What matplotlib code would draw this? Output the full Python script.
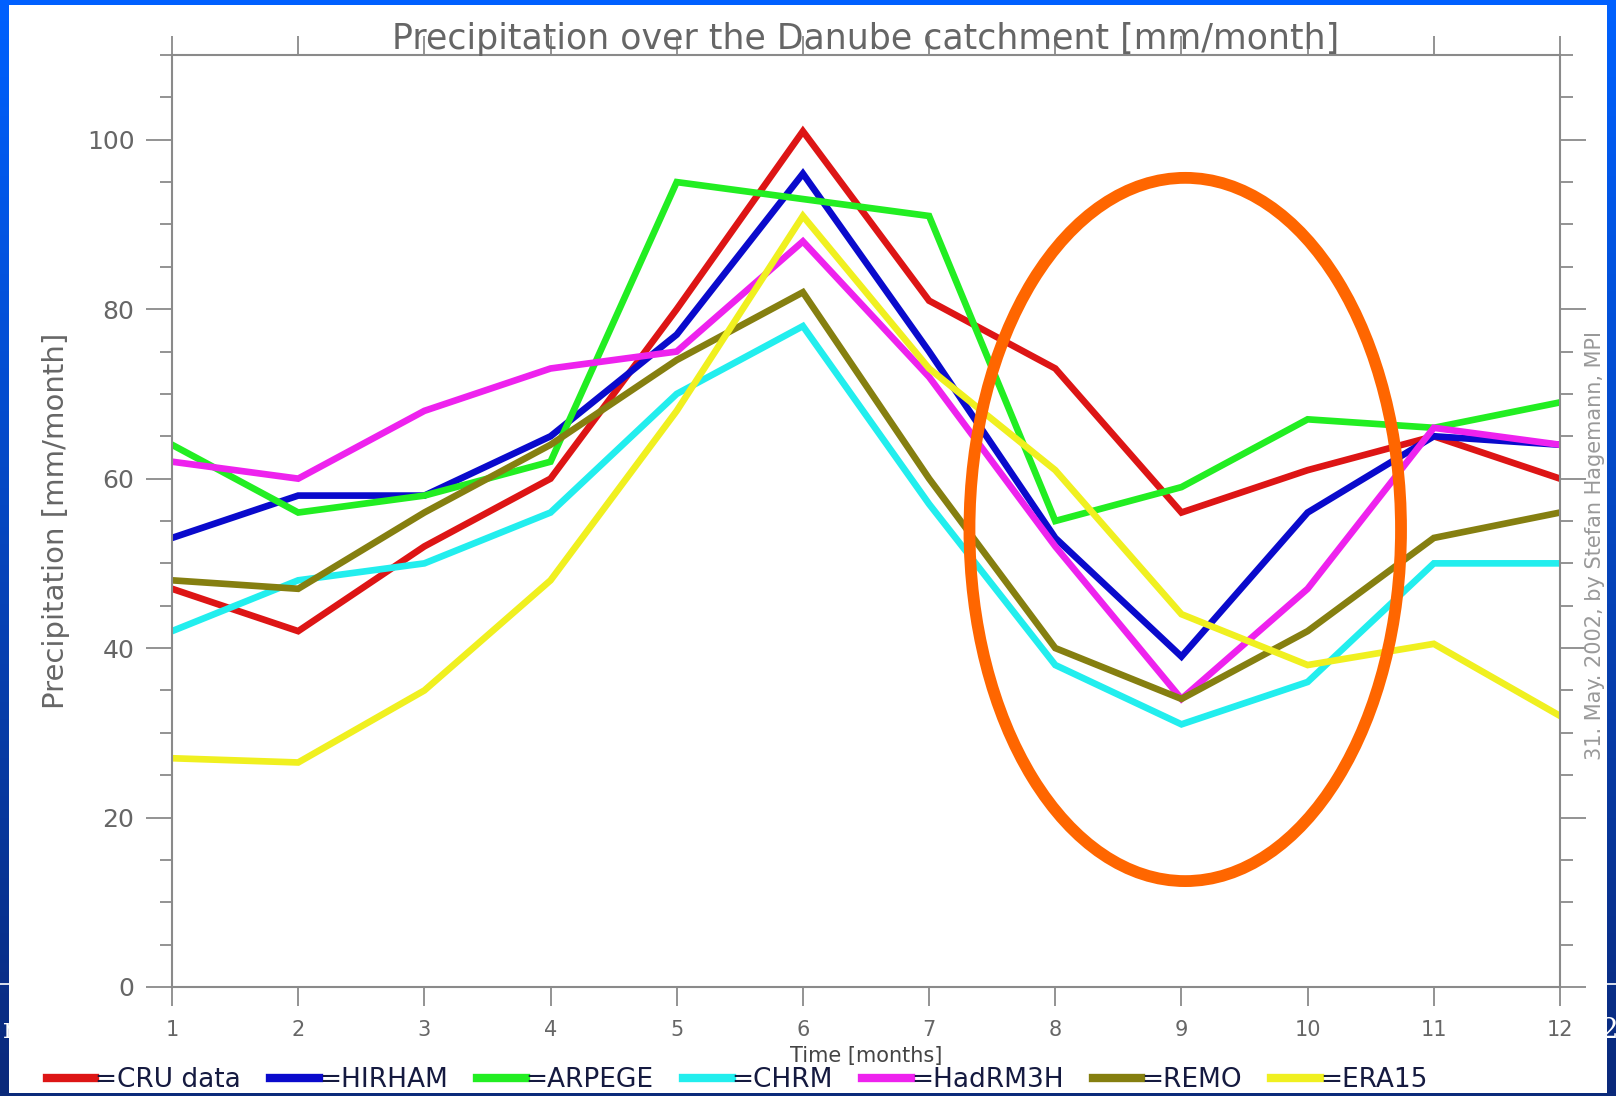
import numpy as np
import matplotlib
matplotlib.use('Agg')
import matplotlib.pyplot as plt
from matplotlib.patches import Ellipse, Rectangle

months = np.arange(1, 13)

cru_data = [47, 42, 52, 60, 80, 101, 81, 73, 56, 61, 65, 60]
hirham = [53, 58, 58, 65, 77, 96, 75, 53, 39, 56, 65, 64]
arpege = [64, 56, 58, 62, 95, 93, 91, 55, 59, 67, 66, 69]
chrm = [42, 48, 50, 56, 70, 78, 57, 38, 31, 36, 50, 50]
hadrm3h = [62, 60, 68, 73, 75, 88, 72, 52, 34, 47, 66, 64]
remo = [48, 47, 56, 64, 74, 82, 60, 40, 34, 42, 53, 56]
era15 = [27, 26.5, 35, 48, 68, 91, 73, 61, 44, 38, 40.5, 32]

series = [
    ('CRU data', cru_data, '#dd1515'),
    ('HIRHAM', hirham, '#0a0acc'),
    ('ARPEGE', arpege, '#22ee22'),
    ('CHRM', chrm, '#22eeee'),
    ('HadRM3H', hadrm3h, '#ee22ee'),
    ('REMO', remo, '#857f10'),
    ('ERA15', era15, '#f0f020'),
]

# highlighted region (orange ring)
ring_center = (9.03, 54)
ring_w, ring_h = 3.42, 83

GREY = '#666666'

fig = plt.figure(figsize=(16.16, 10.96), dpi=100)

# slide background: blue gradient
bg = fig.add_axes([0, 0, 1, 1], zorder=-10)
grad = np.linspace(0, 1, 256).reshape(-1, 1)
top = np.array([0.0, 0.38, 1.0])
bot = np.array([0.04, 0.16, 0.48])
img = top[None, None, :] * (1 - grad[:, :, None]) + bot[None, None, :] * grad[:, :, None]
bg.imshow(img, aspect='auto', extent=[0, 1, 0, 1])
bg.axhline(1 - 984/1096, color='white', lw=1.2)
bg.set_axis_off()

# bits of slide text behind the picture
fig.text(2/1616, 1 - 1030/1096, 'n', color='white', fontsize=20, family='DejaVu Serif',
         ha='left', va='center', zorder=-5)
fig.text(1600/1616, 1 - 1030/1096, '2', color='white', fontsize=20, family='DejaVu Serif',
         ha='left', va='center', zorder=-5)

# white picture panel
panel = Rectangle((9/1616, 3/1096), 1598/1616, 1088/1096, transform=fig.transFigure,
                  facecolor='white', edgecolor='none', zorder=-1)
fig.patches.append(panel)

ax = fig.add_axes([172/1616, 1 - 987/1096, (1560-172)/1616, (987-55)/1096])
ax.set_facecolor('none')

for name, vals, col in series:
    ax.plot(months, vals, color=col, lw=4.8, label='=' + name, solid_joinstyle='miter')

ring = Ellipse(ring_center, ring_w, ring_h, fill=False, edgecolor='#ff6600', lw=8.5,
               clip_on=False, zorder=5)
ax.add_patch(ring)

ax.set_xlim(1, 12)
ax.set_ylim(0, 110)
ax.set_xticks(months)
ax.set_yticks(np.arange(0, 101, 20))
ax.set_yticks(np.arange(0, 111, 5), minor=True)

for sp in ax.spines.values():
    sp.set_color('#8a8a8a')
    sp.set_linewidth(1.5)

ax.tick_params(axis='x', which='major', direction='out', length=14, width=1.3,
               color='#8a8a8a', top=True, labelsize=15, labelcolor=GREY, pad=10)
ax.tick_params(axis='y', which='major', direction='out', length=19, width=1.3,
               color='#8a8a8a', right=True, labelsize=18, labelcolor=GREY, pad=8)
ax.tick_params(axis='y', which='minor', direction='out', length=9, width=1.3,
               color='#8a8a8a', right=True)

ax.set_title('Precipitation over the Danube catchment [mm/month]', fontsize=25,
             color=GREY, pad=4)
ax.set_ylabel('Precipitation [mm/month]', fontsize=21, color=GREY, labelpad=12)
ax.set_xlabel('Time [months]', fontsize=15, color='#444444', labelpad=4)

fig.text(1595/1616, 1 - 546/1096, '31. May. 2002, by Stefan Hagemann, MPI', rotation=90,
         fontsize=15, color='#999999', ha='center', va='center')

leg = fig.legend(loc='lower left', bbox_to_anchor=(36/1616, -8/1096), ncol=7,
                 frameon=False, fontsize=19, handlelength=1.85, handletextpad=0.0,
                 columnspacing=1.1, borderaxespad=0)
for t in leg.get_texts():
    t.set_color('#151a40')
for h in leg.legend_handles:
    h.set_linewidth(6)

# thin navy strip at the very bottom edge
fig.patches.append(Rectangle((0, 0), 1, 3/1096, transform=fig.transFigure,
                             facecolor='#0b2a7a', edgecolor='none', zorder=10))

fig.savefig('out.png', dpi=100)
